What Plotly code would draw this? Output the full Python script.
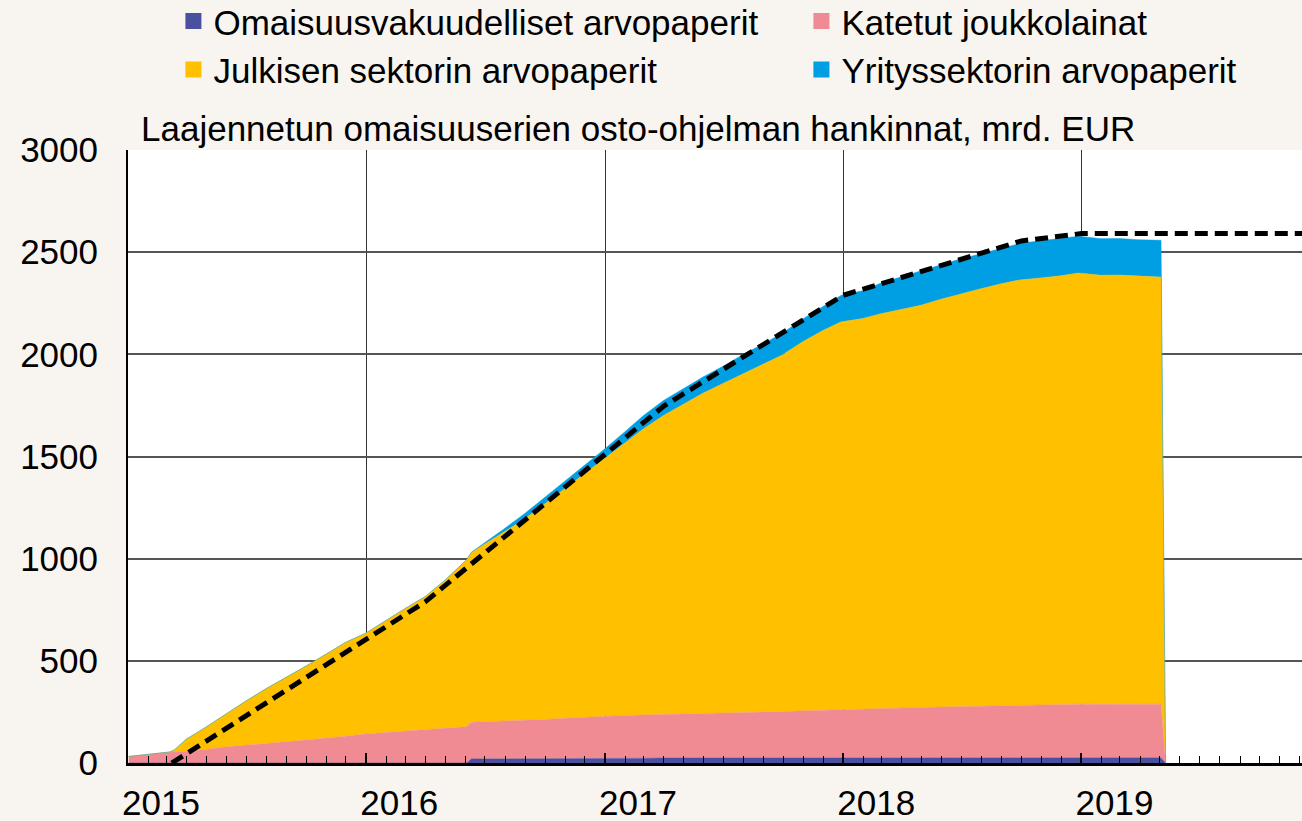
import plotly.graph_objects as go

# ---------------- data (mrd. EUR) ----------------
dates = [
    "2015-01-02", "2015-03-06", "2015-03-13", "2015-03-31", "2015-04-30", "2015-05-29",
    "2015-06-30", "2015-07-31", "2015-08-31", "2015-09-30", "2015-10-30", "2015-11-30",
    "2015-12-31", "2016-01-29", "2016-02-29", "2016-03-31", "2016-04-29", "2016-05-31",
    "2016-06-03", "2016-06-10", "2016-06-30", "2016-07-29", "2016-08-31", "2016-09-30",
    "2016-10-31", "2016-11-30", "2016-12-30", "2017-01-31", "2017-02-28", "2017-03-31",
    "2017-04-28", "2017-05-31", "2017-06-30", "2017-07-31", "2017-08-31", "2017-09-29",
    "2017-10-31", "2017-11-30", "2017-12-29", "2018-01-31", "2018-02-28", "2018-03-30",
    "2018-04-30", "2018-05-31", "2018-06-29", "2018-07-31", "2018-08-31", "2018-09-28",
    "2018-10-31", "2018-11-30", "2018-12-28", "2019-01-31", "2019-02-28", "2019-03-29",
    "2019-04-30", "2019-05-03", "2019-05-10",
]

abspp = [
    0, 0, 0, 0, 0, 0,
    0, 0, 0, 0, 0, 0,
    0, 0, 0, 0, 0, 0,
    0, 20, 20, 21, 21, 21,
    22, 22, 22, 23, 23, 24,
    24, 24, 24, 25, 25, 25,
    25, 25, 25, 26, 26, 26,
    26, 26, 26, 26, 26, 26,
    26, 26, 26, 25, 25, 25,
    25, 25, 0,
]

cbpp3 = [
    32, 54, 55, 58, 66, 78,
    88, 96, 104, 112, 120, 131,
    142, 148, 155, 163, 170, 177,
    179, 180, 182, 184, 187, 192,
    197, 202, 206, 210, 212, 214,
    216, 218, 220, 222, 224, 227,
    230, 233, 236, 240, 242, 244,
    246, 248, 250, 252, 254, 256,
    259, 261, 262, 262, 262, 262,
    263, 263, 0,
]

pspp = [
    0, 0, 9, 58, 109, 158,
    214, 267, 313, 361, 410, 459,
    493, 547, 600, 651, 720, 809,
    816, 830, 868, 926, 987, 1053,
    1122, 1191, 1259, 1332, 1398, 1462,
    1511, 1568, 1612, 1656, 1701, 1744,
    1807, 1857, 1898, 1909, 1931, 1948,
    1968, 1996, 2019, 2043, 2065, 2082,
    2089, 2097, 2110, 2100, 2101, 2096,
    2091, 2090, 0,
]

cspp = [
    0, 0, 0, 0, 0, 0,
    0, 0, 0, 0, 0, 0,
    0, 0, 0, 0, 0, 0,
    0, 1, 5, 12, 26, 32,
    36, 41, 46, 55, 65, 73,
    76, 79, 84, 95, 101, 106,
    111, 118, 130, 136, 150, 160,
    168, 170, 171, 171, 174, 178,
    182, 183, 180, 179, 179, 178,
    180, 180, 0,
]

# planned cumulative purchases (dashed line)
plan_dates = ["2015-03-09", "2016-04-01", "2017-04-01", "2018-01-01",
              "2018-10-01", "2019-01-01", "2019-12-31"]
plan_vals = [0, 790, 1747, 2289, 2555, 2591, 2591]

series_names = [
    "Omaisuusvakuudelliset arvopaperit",
    "Katetut joukkolainat",
    "Julkisen sektorin arvopaperit",
    "Yrityssektorin arvopaperit",
]
series_colors = ["#4B4F9F", "#F08A93", "#FFC000", "#009FE3"]
series_values = [abspp, cbpp3, pspp, cspp]

title_text = "Laajennetun omaisuuserien osto-ohjelman hankinnat, mrd. EUR"
y_ticks = [0, 500, 1000, 1500, 2000, 2500, 3000]

FONT = "Liberation Sans, Arial, sans-serif"
FS = 35

fig = go.Figure()

for name, col, vals in zip(series_names, series_colors, series_values):
    fig.add_trace(go.Scatter(
        x=dates, y=vals, name=name, stackgroup="app", mode="lines",
        line=dict(width=0.5, color=col), fillcolor=col, showlegend=False,
        hoverinfo="skip",
    ))

fig.add_trace(go.Scatter(
    x=plan_dates, y=plan_vals, mode="lines", showlegend=False,
    line=dict(color="black", width=5, dash="13px,7px"), hoverinfo="skip",
))

# legend entries (square swatches)
for name, col in zip(series_names, series_colors):
    fig.add_trace(go.Scatter(
        x=[None], y=[None], mode="markers", name=name,
        marker=dict(symbol="square", size=16, color=col), showlegend=True,
    ))

fig.add_annotation(
    text=title_text, xref="paper", yref="paper", x=0.0095, y=1.0,
    xanchor="left", yanchor="bottom", showarrow=False,
    font=dict(family=FONT, size=FS, color="black"),
)

fig.update_layout(
    width=1302, height=821,
    margin=dict(l=128, r=0, t=150, b=58, autoexpand=False),
    paper_bgcolor="#F8F4EF", plot_bgcolor="white",
    font=dict(family=FONT, size=FS, color="black"),
    legend=dict(
        orientation="h", x=-0.0005, xanchor="left", y=1.258, yanchor="top",
        indentation=46, entrywidth=537, bgcolor="rgba(0,0,0,0)",
        font=dict(family=FONT, size=FS, color="black"), traceorder="normal",
        itemclick=False,
    ),
    xaxis=dict(
        type="date", range=["2015-01-01", "2019-12-05"],
        tick0="2015-01-01", dtick="M12", tickformat="%Y",
        ticks="inside", ticklen=10, tickwidth=1.5, tickcolor="black",
        ticklabelshift=33, ticklabelstandoff=7,
        showline=True, linecolor="black", linewidth=2.5,
        showgrid=True, gridcolor="#333333", gridwidth=1.3,
        minor=dict(dtick="M1", ticks="inside", ticklen=7, tickwidth=1.3,
                   tickcolor="black", showgrid=False),
        tickfont=dict(family=FONT, size=FS, color="black"),
        fixedrange=True,
    ),
    yaxis=dict(
        range=[0, 3000], tickvals=y_ticks, ticks="",
        showline=True, linecolor="black", linewidth=2,
        showgrid=True, gridcolor="#555555", gridwidth=1.5, zeroline=False,
        tickfont=dict(family=FONT, size=FS, color="black"),
        ticklabelstandoff=21, fixedrange=True,
    ),
)

fig.write_html(
    "out.html",
    config={"displayModeBar": False},
    post_script="document.body.style.margin='0';document.body.style.padding='0';"
                "document.body.style.overflow='hidden';",
)
